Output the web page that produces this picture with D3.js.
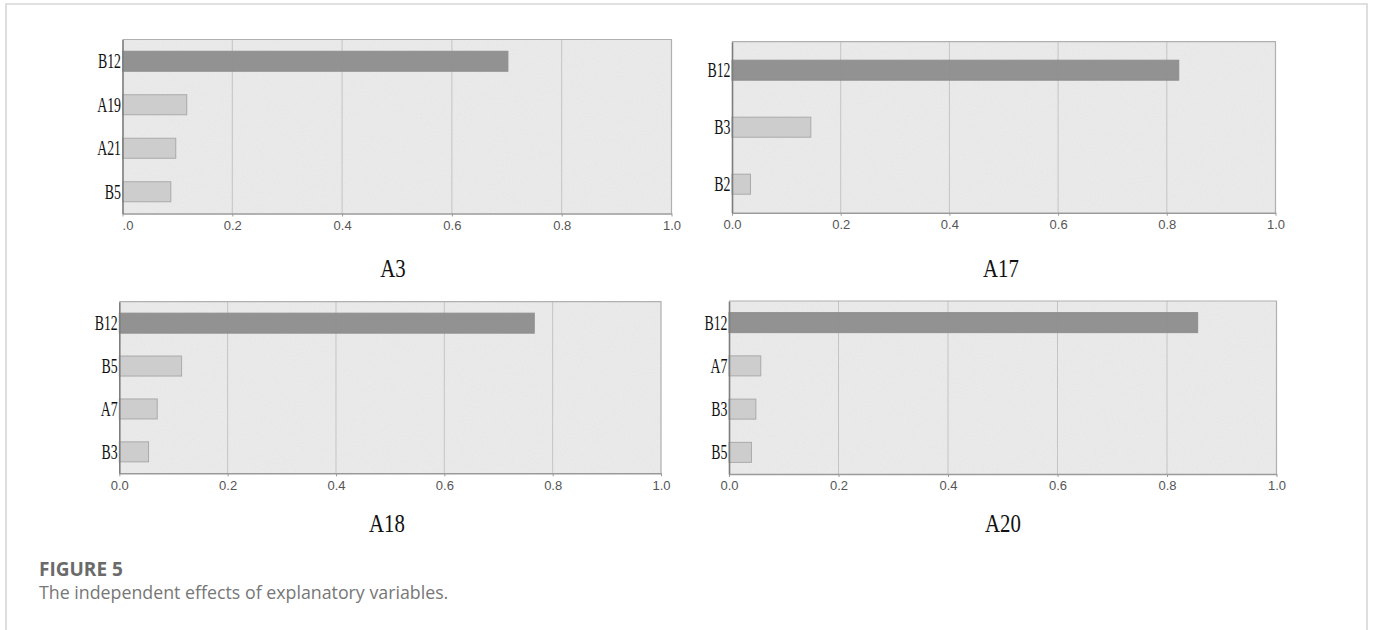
<!DOCTYPE html>
<html>
<head>
<meta charset="utf-8">
<script src="https://cdn.jsdelivr.net/npm/d3@7"></script>
<style>
  html, body { margin: 0; padding: 0; background: #fff; }
  svg { display: block; }
</style>
</head>
<body>
<script>
// ---------------- DATA ----------------
const panelTitles = ["A3", "A17", "A18", "A20"];

const categoriesA3  = ["B12", "A19", "A21", "B5"];
const valuesA3      = [0.702, 0.117, 0.097, 0.088];

const categoriesA17 = ["B12", "B3", "B2"];
const valuesA17     = [0.822, 0.145, 0.034];

const categoriesA18 = ["B12", "B5", "A7", "B3"];
const valuesA18     = [0.766, 0.115, 0.070, 0.054];

const categoriesA20 = ["B12", "A7", "B3", "B5"];
const valuesA20     = [0.856, 0.058, 0.049, 0.041];

const xTickValues   = [0, 0.2, 0.4, 0.6, 0.8, 1.0];
const xTickLabelsA3 = [".0", "0.2", "0.4", "0.6", "0.8", "1.0"];
const xTickLabels   = ["0.0", "0.2", "0.4", "0.6", "0.8", "1.0"];

const captionTitle = "FIGURE 5";
const captionText  = "The independent effects of explanatory variables.";

// ---------------- LAYOUT ----------------
const W = 1375, H = 630;
const layout = [
  { x0: 122.5, x1: 671.5,  y0: 39.5,  y1: 213.5, tx: 393,  ty: 277 },
  { x0: 732,   x1: 1275.5, y0: 41.7,  y1: 212.7, tx: 1001, ty: 277 },
  { x0: 119.3, x1: 661,    y0: 301.7, y1: 473.3, tx: 387,  ty: 532 },
  { x0: 729,   x1: 1276.5, y0: 301,   y1: 474,   tx: 1003, ty: 532 }
];
const panels = [
  { title: panelTitles[0], cats: categoriesA3,  vals: valuesA3,  ticks: xTickLabelsA3 },
  { title: panelTitles[1], cats: categoriesA17, vals: valuesA17, ticks: xTickLabels },
  { title: panelTitles[2], cats: categoriesA18, vals: valuesA18, ticks: xTickLabels },
  { title: panelTitles[3], cats: categoriesA20, vals: valuesA20, ticks: xTickLabels }
];
const barH = 20;

const svg = d3.select("body").append("svg").attr("width", W).attr("height", H);

// noise filter for the textured plot background
const defs = svg.append("defs");
const f = defs.append("filter").attr("id", "noise").attr("x", 0).attr("y", 0).attr("width", "100%").attr("height", "100%");
f.append("feTurbulence").attr("type", "fractalNoise").attr("baseFrequency", "0.9").attr("numOctaves", 2).attr("seed", 3).attr("result", "t");
f.append("feColorMatrix").attr("type", "matrix")
  .attr("values", "0 0 0 0 0.5  0 0 0 0 0.5  0 0 0 0 0.5  0 0 0 -1.6 1.0");

// figure frame
svg.append("path")
  .attr("d", `M6,${H} V4 H1367 V${H}`)
  .attr("fill", "none").attr("stroke", "#d6d6d6").attr("stroke-width", 1.6);

panels.forEach((p, i) => {
  const L = layout[i];
  const g = svg.append("g");
  const x = d3.scaleLinear().domain([0, 1]).range([L.x0, L.x1]);
  const step = (L.y1 - L.y0) / p.cats.length;
  const pad = 1 - barH / step;
  const y = d3.scaleBand().domain(p.cats).range([L.y0, L.y1]).paddingInner(pad).paddingOuter(pad / 2);

  // background
  g.append("rect").attr("x", L.x0).attr("y", L.y0)
    .attr("width", L.x1 - L.x0).attr("height", L.y1 - L.y0)
    .attr("fill", "#eaeaea");
  g.append("rect").attr("x", L.x0).attr("y", L.y0)
    .attr("width", L.x1 - L.x0).attr("height", L.y1 - L.y0)
    .attr("fill", "#fff").attr("filter", "url(#noise)").attr("opacity", 0.12);

  // gridlines
  g.selectAll("line.grid").data(xTickValues.slice(1, -1)).enter().append("line")
    .attr("x1", d => x(d)).attr("x2", d => x(d))
    .attr("y1", L.y0).attr("y2", L.y1)
    .attr("stroke", "#c4c4c4").attr("stroke-width", 1);

  // top & right border
  g.append("path").attr("d", `M${L.x0},${L.y0} H${L.x1} V${L.y1}`)
    .attr("fill", "none").attr("stroke", "#b0b0b0").attr("stroke-width", 1.2);

  // bars
  g.selectAll("rect.bar").data(p.vals).enter().append("rect")
    .attr("x", x(0)).attr("y", (d, j) => y(p.cats[j]))
    .attr("width", d => x(d) - x(0)).attr("height", y.bandwidth())
    .attr("fill", (d, j) => j === 0 ? "#8e8e8e" : "#cdcdcd")
    .attr("stroke", (d, j) => j === 0 ? "#8a8a8a" : "#aaaaaa")
    .attr("stroke-width", 1)
    .attr("opacity", (d, j) => j === 0 ? 0.95 : 1);

  // x axis
  const xAxis = d3.axisBottom(x).tickValues(xTickValues)
    .tickFormat((d, j) => p.ticks[j]).tickSize(3).tickSizeOuter(0).tickPadding(4);
  const ax = g.append("g").attr("transform", `translate(0,${L.y1})`).call(xAxis);
  ax.select(".domain").attr("stroke", "#9a9a9a").attr("stroke-width", 1.4);
  ax.selectAll(".tick line").attr("stroke", "#9a9a9a");
  ax.selectAll(".tick text")
    .attr("font-family", "'Liberation Sans', Arial, sans-serif")
    .attr("font-size", 13).attr("fill", "#555")
    .attr("dx", (d, j) => p.ticks[j].startsWith(".") ? 5 : 0);

  // y axis
  const yAxis = d3.axisLeft(y).tickSize(0).tickPadding(0);
  const ay = g.append("g").attr("transform", `translate(${L.x0},0)`).call(yAxis);
  ay.select(".domain").attr("stroke", "#7d7d7d").attr("stroke-width", 1.6);
  ay.selectAll(".tick text")
    .attr("font-family", "'Liberation Serif', 'Times New Roman', serif")
    .attr("font-size", 21).attr("fill", "#111")
    .attr("x", 0).attr("dy", "0.33em")
    .attr("transform", "translate(-1.5,0) scale(0.66,1)");

  // panel title
  g.append("text")
    .attr("transform", `translate(${L.tx},${L.ty}) scale(0.8,1)`)
    .attr("text-anchor", "middle")
    .attr("font-family", "'Liberation Serif', 'Times New Roman', serif")
    .attr("font-size", 26).attr("fill", "#111")
    .text(p.title);
});

// caption
svg.append("text").attr("x", 39).attr("y", 576)
  .attr("font-family", "'Open Sans', 'Noto Sans', sans-serif")
  .attr("font-weight", "bold").attr("font-size", 19).attr("fill", "#6a6a6a")
  .text(captionTitle);
svg.append("text").attr("x", 39).attr("y", 599)
  .attr("font-family", "'Open Sans', 'Noto Sans', sans-serif")
  .attr("font-size", 17.8).attr("fill", "#777")
  .text(captionText);
</script>
</body>
</html>
